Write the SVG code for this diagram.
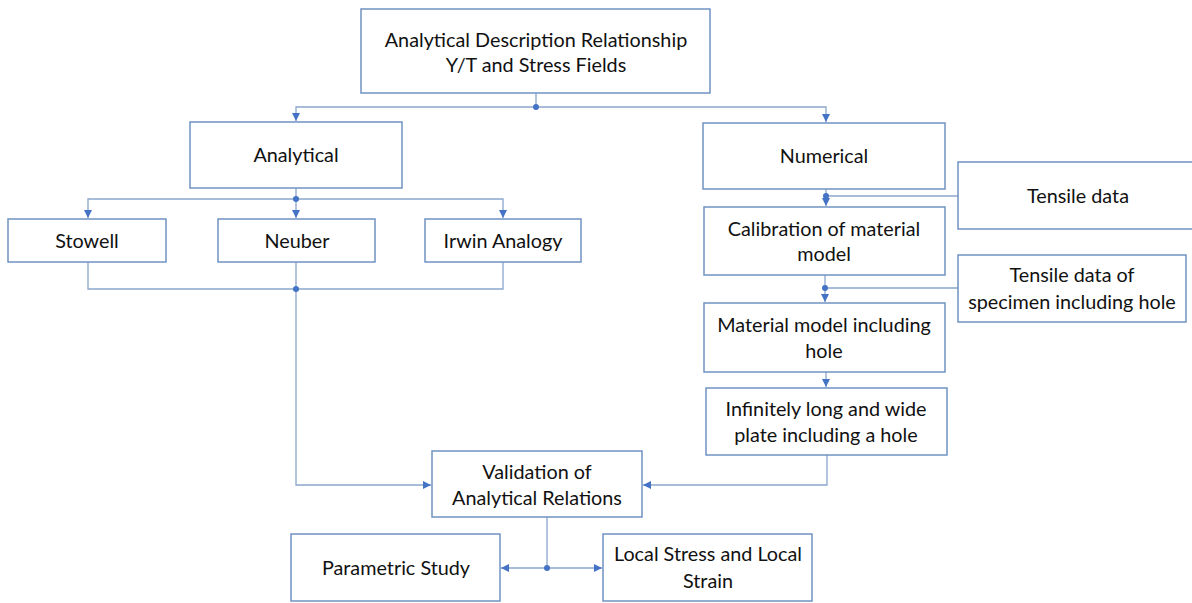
<svg xmlns="http://www.w3.org/2000/svg" width="1192" height="603" viewBox="0 0 1192 603">
<style>
.box{fill:#fff;stroke:#6f93c2;stroke-width:1.5}
.t{font-family:Lato,"Liberation Sans",sans-serif;font-size:19.8px;fill:#111;text-anchor:middle}
.c{fill:none;stroke:#8aa6cc;stroke-width:1.3}
.dot{fill:#4472c4}
</style>
<defs>
<marker id="ah" markerWidth="10" markerHeight="10" refX="9" refY="5" orient="auto" markerUnits="userSpaceOnUse">
<path d="M1,1 L9,5 L1,9 Z" fill="#4472c4"/>
</marker>
</defs>
<rect width="1192" height="603" fill="#fff"/>
<g id="connectors">
<path class="c" d="M536,93 V107"/>
<path class="c" d="M536,107 H296 V121" marker-end="url(#ah)"/>
<path class="c" d="M536,107 H826 V122" marker-end="url(#ah)"/>
<path class="c" d="M296,188 V199"/>
<path class="c" d="M296,199 H88 V218" marker-end="url(#ah)"/>
<path class="c" d="M296,199 V218" marker-end="url(#ah)"/>
<path class="c" d="M296,199 H503 V218" marker-end="url(#ah)"/>
<path class="c" d="M88,262 V289 H503 V262"/>
<path class="c" d="M296,262 V485 H431" marker-end="url(#ah)"/>
<path class="c" d="M827,455 V485 H643" marker-end="url(#ah)"/>
<path class="c" d="M826,189 V206" marker-end="url(#ah)"/>
<path class="c" d="M958,196 H826"/>
<path class="c" d="M825,275 V302" marker-end="url(#ah)"/>
<path class="c" d="M958,288 H825"/>
<path class="c" d="M826,372 V387" marker-end="url(#ah)"/>
<path class="c" d="M547,517 V568"/>
<path class="c" d="M547,568 H501" marker-end="url(#ah)"/>
<path class="c" d="M547,568 H602" marker-end="url(#ah)"/>
<circle class="dot" cx="536" cy="107" r="3"/>
<circle class="dot" cx="296" cy="199" r="3"/>
<circle class="dot" cx="296" cy="289" r="3"/>
<circle class="dot" cx="826" cy="196" r="3"/>
<circle class="dot" cx="825" cy="288" r="3"/>
<circle class="dot" cx="547" cy="568" r="3"/>
</g>
<g id="top"><rect class="box" x="361" y="9" width="349" height="84"/><text class="t" x="536" y="47">Analytical Description Relationship</text><text class="t" x="536" y="72">Y/T and Stress Fields</text></g>
<g id="analytical"><rect class="box" x="190" y="122" width="212" height="66"/><text class="t" x="296" y="162">Analytical</text></g>
<g id="numerical"><rect class="box" x="703" y="123" width="242" height="66"/><text class="t" x="824" y="163">Numerical</text></g>
<g id="stowell"><rect class="box" x="8" y="219" width="158" height="43"/><text class="t" x="87" y="248">Stowell</text></g>
<g id="neuber"><rect class="box" x="218" y="219" width="157" height="43"/><text class="t" x="297" y="248">Neuber</text></g>
<g id="irwin"><rect class="box" x="425" y="219" width="156" height="43"/><text class="t" x="503" y="248">Irwin Analogy</text></g>
<g id="tensile"><rect class="box" x="958" y="162" width="240" height="67"/><text class="t" x="1078" y="203">Tensile data</text></g>
<g id="calibration"><rect class="box" x="704" y="207" width="241" height="68"/><text class="t" x="824" y="236">Calibration of material</text><text class="t" x="824" y="261">model</text></g>
<g id="tensile-hole"><rect class="box" x="958" y="255" width="228" height="67"/><text class="t" x="1072" y="282">Tensile data of</text><text class="t" x="1072" y="309">specimen including hole</text></g>
<g id="material"><rect class="box" x="704" y="303" width="241" height="69"/><text class="t" x="824" y="332">Material model including</text><text class="t" x="824" y="358">hole</text></g>
<g id="plate"><rect class="box" x="706" y="388" width="241" height="67"/><text class="t" x="826" y="416">Infinitely long and wide</text><text class="t" x="826" y="442">plate including a hole</text></g>
<g id="validation"><rect class="box" x="432" y="451" width="210" height="66"/><text class="t" x="537" y="479">Validation of</text><text class="t" x="537" y="505">Analytical Relations</text></g>
<g id="parametric"><rect class="box" x="291" y="534" width="209" height="67"/><text class="t" x="396" y="575">Parametric Study</text></g>
<g id="local"><rect class="box" x="603" y="534" width="209" height="67"/><text class="t" x="708" y="561">Local Stress and Local</text><text class="t" x="708" y="588">Strain</text></g>
</svg>
